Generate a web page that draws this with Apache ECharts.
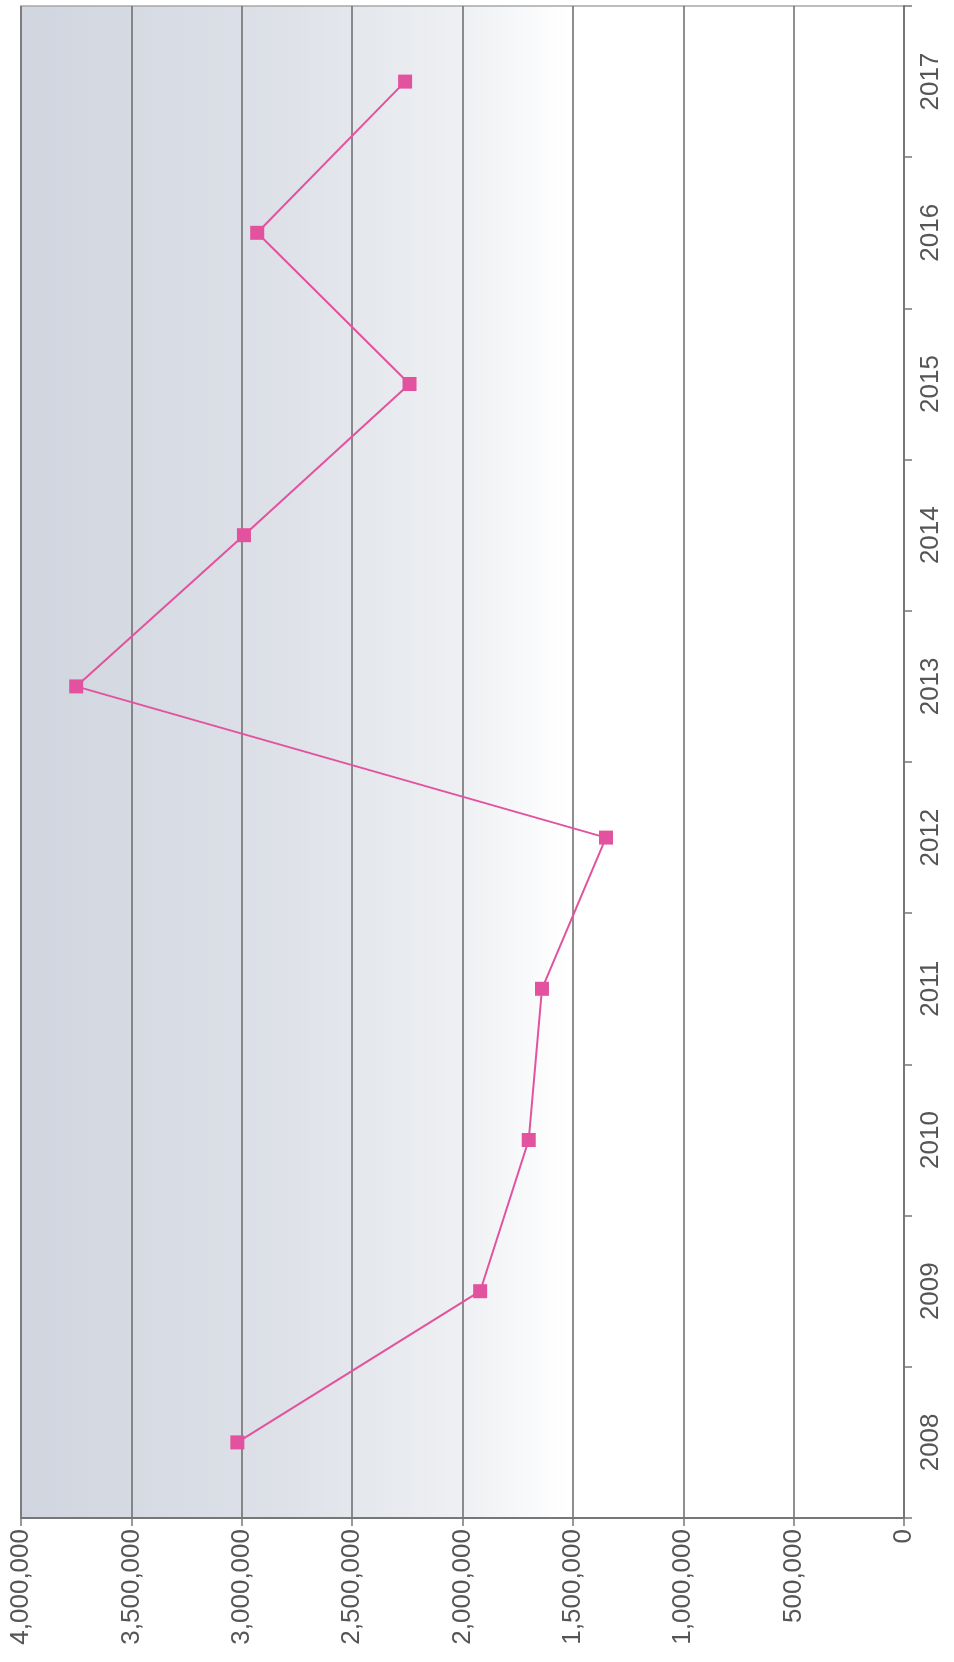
<!DOCTYPE html>
<html>
<head>
<meta charset="utf-8">
<script src="https://cdn.jsdelivr.net/npm/echarts@6/dist/echarts.min.js"></script>
<style>html,body{margin:0;padding:0;background:#fff;}#c{width:954px;height:1662px;}</style>
</head>
<body>
<div id="c"></div>
<script>
var years = ['2008','2009','2010','2011','2012','2013','2014','2015','2016','2017'];
var values = [3020000, 1920000, 1700000, 1640000, 1350000, 3750000, 2990000, 2240000, 2930000, 2260000];
var valueTicks = [0, 500000, 1000000, 1500000, 2000000, 2500000, 3000000, 3500000, 4000000];

var chart = echarts.init(document.getElementById('c'), null, {renderer: 'canvas'});
function fmt(v) { return v.toString().replace(/\B(?=(\d{3})+(?!\d))/g, ','); }
chart.setOption({
  animation: false,
  grid: {
    left: 21, right: 50, top: 6, bottom: 144,
    show: true,
    borderColor: '#a8a8a8',
    borderWidth: 1.5,
    backgroundColor: {
      type: 'linear', x: 0, y: 0, x2: 1, y2: 0,
      colorStops: [
        {offset: 0, color: '#d0d5df'},
        {offset: 0.3, color: '#dee1e8'},
        {offset: 0.5, color: '#eef0f3'},
        {offset: 0.62, color: '#ffffff'},
        {offset: 1, color: '#ffffff'}
      ]
    }
  },
  xAxis: {
    type: 'value',
    inverse: true,
    position: 'bottom',
    min: valueTicks[0],
    max: valueTicks[valueTicks.length - 1],
    interval: 500000,
    axisLine: {show: true, lineStyle: {color: '#777', width: 2}},
    axisTick: {show: true, length: 8, lineStyle: {color: '#777', width: 1.5}},
    splitLine: {show: true, lineStyle: {color: '#6a6a6a', width: 1.5}},
    axisLabel: {
      rotate: 90, margin: 11,
      fontFamily: 'Liberation Sans, Arial, sans-serif', fontSize: 26, color: '#555',
      formatter: function (v) { return fmt(v); }
    }
  },
  yAxis: {
    type: 'category',
    position: 'right',
    data: years,
    axisLine: {show: true, lineStyle: {color: '#777', width: 2}},
    axisTick: {show: true, length: 8, lineStyle: {color: '#777', width: 1.5}},
    splitLine: {show: false},
    axisLabel: {
      rotate: 90, margin: 14,
      fontFamily: 'Liberation Sans, Arial, sans-serif', fontSize: 26, color: '#555'
    }
  },
  series: [{
    type: 'line',
    data: values,
    symbol: 'rect',
    symbolSize: 14,
    itemStyle: {color: '#e2529e'},
    lineStyle: {color: '#e2529e', width: 2}
  }]
});
</script>
</body>
</html>
